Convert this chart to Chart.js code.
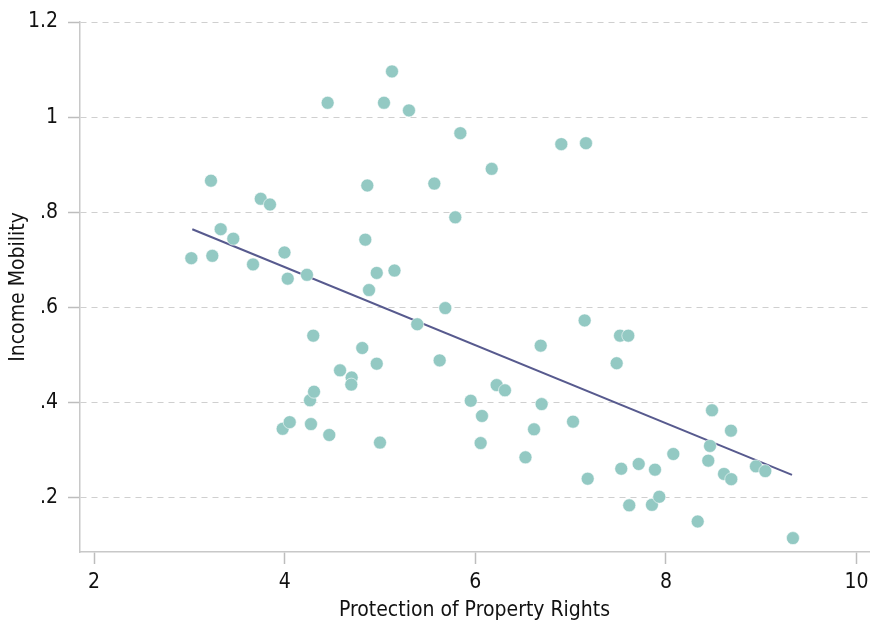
<!DOCTYPE html>
<html>
<head>
<meta charset="utf-8">
<script src="https://cdn.jsdelivr.net/npm/chart.js@4/dist/chart.umd.min.js"></script>
<style>
  html, body { margin: 0; padding: 0; background: #ffffff; }
  #wrap { width: 870px; height: 626px; }
</style>
</head>
<body>
<div id="wrap"><canvas id="chart" width="870" height="626"></canvas></div>
<script>
// Protection of property rights (x) against income mobility (y), one dot per observation
const propertyRights = [
  3.021, 3.227, 3.241, 3.329, 3.461, 3.668, 3.749, 3.846, 3.998, 4.032,
  4.234, 4.300, 3.979, 4.053, 4.266, 4.308, 4.276, 4.468, 4.451, 4.581,
  4.703, 4.699, 4.814, 4.846, 4.867, 4.885, 4.966, 4.966, 5.000, 5.042,
  5.126, 5.152, 5.304, 5.391, 5.570, 5.626, 5.685, 5.790, 5.843, 5.952,
  6.070, 6.056, 6.172, 6.224, 6.311, 6.526, 6.616, 6.686, 6.696, 6.902,
  7.025, 7.147, 7.161, 7.179, 7.483, 7.518, 7.605, 7.531, 7.615, 7.714,
  7.853, 7.885, 7.930, 8.077, 8.333, 8.444, 8.462, 8.483, 8.609, 8.682,
  8.685, 8.944, 9.042, 9.332
];
const incomeMobility = [
  0.703, 0.866, 0.708, 0.764, 0.744, 0.690, 0.828, 0.816, 0.715, 0.660,
  0.668, 0.540, 0.344, 0.358, 0.404, 0.422, 0.354, 0.331, 1.030, 0.467,
  0.452, 0.437, 0.514, 0.742, 0.856, 0.636, 0.672, 0.481, 0.315, 1.030,
  1.096, 0.677, 1.014, 0.564, 0.860, 0.488, 0.598, 0.789, 0.966, 0.403,
  0.371, 0.314, 0.891, 0.436, 0.425, 0.284, 0.343, 0.519, 0.396, 0.943,
  0.359, 0.572, 0.945, 0.239, 0.482, 0.540, 0.540, 0.260, 0.183, 0.270,
  0.184, 0.258, 0.201, 0.291, 0.149, 0.277, 0.308, 0.383, 0.249, 0.340,
  0.238, 0.265, 0.255, 0.114
];

// Fitted linear trend, endpoints
const fitX = [3.031, 9.322];
const fitY = [0.764, 0.247];

// Axis ticks
const xTicks = [2, 4, 6, 8, 10];
const yTicks = [0.2, 0.4, 0.6, 0.8, 1.0, 1.2];
const yTickLabels = ['.2', '.4', '.6', '.8', '1', '1.2'];

const FONT = '"Liberation Sans Narrow", "DejaVu Sans Condensed", "Roboto", sans-serif';

const scatterPoints = propertyRights.map((x, i) => ({ x: x, y: incomeMobility[i] }));
const fitPoints = fitX.map((x, i) => ({ x: x, y: fitY[i] }));

new Chart(document.getElementById('chart'), {
  type: 'scatter',
  data: {
    datasets: [
      {
        type: 'scatter',
        label: 'Observations',
        data: scatterPoints,
        pointRadius: 6.5,
        pointHoverRadius: 6.5,
        backgroundColor: '#93c9c3',
        borderColor: 'rgba(255,255,255,0.7)',
        borderWidth: 0.8,
        order: 1
      },
      {
        type: 'line',
        label: 'Fit',
        data: fitPoints,
        borderColor: '#575a8e',
        borderWidth: 2,
        pointRadius: 0,
        fill: false,
        tension: 0,
        order: 2
      }
    ]
  },
  options: {
    responsive: false,
    animation: false,
    devicePixelRatio: 1,
    layout: { autoPadding: false, padding: { top: 22, right: 1, bottom: 0, left: 0 } },
    plugins: {
      legend: { display: false },
      tooltip: { enabled: false }
    },
    scales: {
      x: {
        type: 'linear',
        position: 'bottom',
        min: 1.853,
        max: 10.13,
        afterBuildTicks: (scale) => { scale.ticks = xTicks.map(v => ({ value: v })); },
        afterFit: (scale) => {
          scale.height = 74;
          scale.paddingLeft = 0;
          scale.paddingRight = 0;
        },
        grid: {
          drawOnChartArea: false,
          drawTicks: true,
          tickLength: 12,
          tickColor: '#bdbdbd',
          tickWidth: 1.5
        },
        border: { display: true, color: '#c8c8c8', width: 1.5 },
        ticks: {
          padding: 6,
          color: '#111111',
          font: { family: FONT, size: 21 },
          callback: (v) => String(v)
        },
        title: {
          display: true,
          text: 'Protection of Property Rights',
          color: '#111111',
          font: { family: FONT, size: 21 },
          padding: { top: 0, bottom: 3 }
        }
      },
      y: {
        type: 'linear',
        position: 'left',
        min: 0.0848,
        max: 1.2,
        afterBuildTicks: (scale) => { scale.ticks = yTicks.map(v => ({ value: v })); },
        afterFit: (scale) => {
          scale.width = 80;
          scale.paddingTop = 0;
          scale.paddingBottom = 0;
        },
        grid: {
          drawOnChartArea: true,
          drawTicks: true,
          tickLength: 12,
          color: '#cfcfcf',
          lineWidth: 1,
          tickColor: '#bdbdbd',
          tickWidth: 1.5
        },
        border: { display: true, color: '#c8c8c8', width: 1.5, dash: [6, 5] },
        ticks: {
          padding: 10,
          color: '#111111',
          font: { family: FONT, size: 21 },
          callback: (v) => {
            const i = yTicks.findIndex(t => Math.abs(t - v) < 1e-9);
            return i >= 0 ? yTickLabels[i] : '';
          }
        },
        title: {
          display: true,
          text: 'Income Mobility',
          color: '#111111',
          font: { family: FONT, size: 21 },
          padding: { top: 6, bottom: 0 }
        }
      }
    }
  }
});
</script>
</body>
</html>
